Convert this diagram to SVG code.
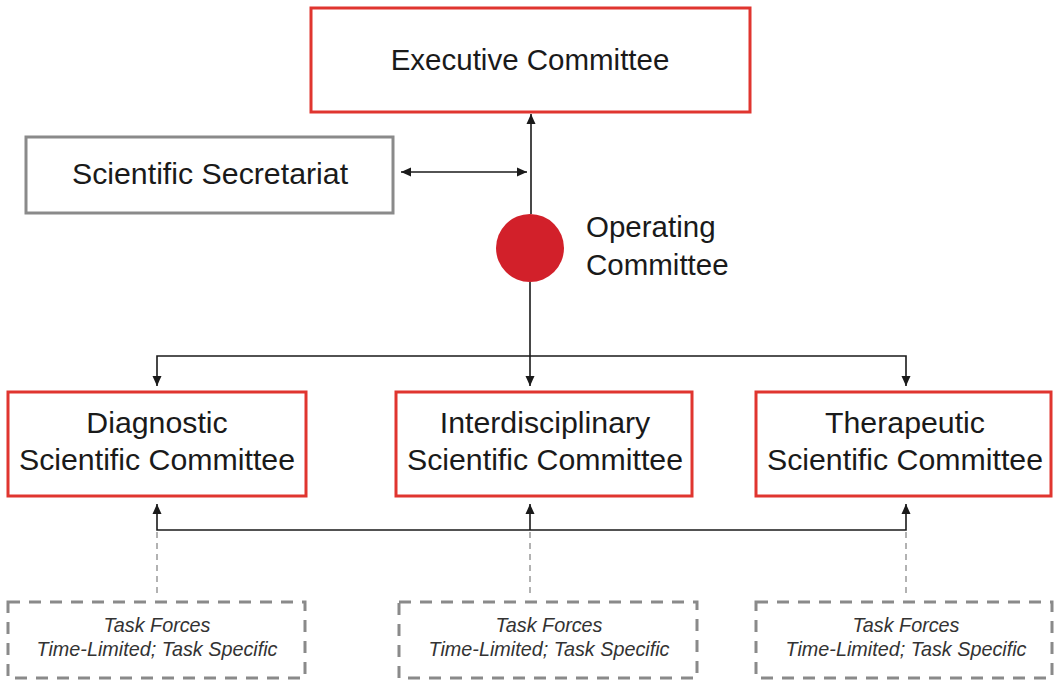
<svg xmlns="http://www.w3.org/2000/svg" width="1054" height="682" viewBox="0 0 1054 682">
<style>
.red{fill:#fff;stroke:#e0352f;stroke-width:3}
.gray{fill:#fff;stroke:#8a8a8a;stroke-width:3}
.dash{fill:none;stroke:#8a8a8a;stroke-width:3;stroke-dasharray:12 9}
.t{font-family:"Liberation Sans",Arial,sans-serif;font-size:30.3px;fill:#1a1a1a;text-anchor:middle}
.e{font-size:29.5px}
.s{font-family:"Liberation Sans",Arial,sans-serif;font-size:19.8px;font-style:italic;fill:#333;text-anchor:middle}
.ln{fill:none;stroke:#1a1a1a;stroke-width:1.6}
.gd{fill:none;stroke:#999;stroke-width:1.5;stroke-dasharray:6 5}
</style>
<defs>
<marker id="ah" viewBox="0 0 10 10" refX="10" refY="5" markerWidth="11" markerHeight="10" markerUnits="userSpaceOnUse" orient="auto-start-reverse">
<path d="M0,0.5 L10,5 L0,9.5 Z" fill="#1a1a1a"/>
</marker>
</defs>
<rect width="1054" height="682" fill="#fff"/>
<g id="connectors">
<line class="ln" x1="531" y1="214" x2="531" y2="114" marker-end="url(#ah)"/>
<line class="ln" x1="401" y1="172" x2="527" y2="172" marker-start="url(#ah)" marker-end="url(#ah)"/>
<line class="ln" x1="530" y1="282" x2="530" y2="386" marker-end="url(#ah)"/>
<polyline class="ln" points="157,386 157,356 906,356 906,386" marker-start="url(#ah)" marker-end="url(#ah)"/>
<polyline class="ln" points="157,504 157,530 906,530 906,504" marker-start="url(#ah)" marker-end="url(#ah)"/>
<line class="ln" x1="530" y1="530" x2="530" y2="504" marker-end="url(#ah)"/>
<line class="gd" x1="157" y1="532" x2="157" y2="598"/>
<line class="gd" x1="530" y1="532" x2="530" y2="598"/>
<line class="gd" x1="906" y1="532" x2="906" y2="598"/>
</g>
<g id="executive">
<rect class="red" x="311" y="8" width="439" height="104"/>
<text class="t e" x="530" y="70">Executive Committee</text>
</g>
<g id="secretariat">
<rect class="gray" x="26" y="137" width="367" height="76"/>
<text class="t" x="210" y="184">Scientific Secretariat</text>
</g>
<g id="operating">
<circle cx="530" cy="248" r="34" fill="#d2202a"/>
<text class="t e" x="586" y="237" style="text-anchor:start">Operating</text>
<text class="t e" x="586" y="275" style="text-anchor:start">Committee</text>
</g>
<g id="diagnostic">
<rect class="red" x="8" y="392" width="298" height="104"/>
<text class="t" x="157" y="433">Diagnostic</text>
<text class="t" x="157" y="470">Scientific Committee</text>
</g>
<g id="interdisciplinary">
<rect class="red" x="396" y="392" width="296" height="104"/>
<text class="t" x="545" y="433">Interdisciplinary</text>
<text class="t" x="545" y="470">Scientific Committee</text>
</g>
<g id="therapeutic">
<rect class="red" x="756" y="392" width="295" height="104"/>
<text class="t" x="905" y="433">Therapeutic</text>
<text class="t" x="905" y="470">Scientific Committee</text>
</g>
<g id="taskforce1">
<rect class="dash" x="8" y="602" width="297" height="76"/>
<text class="s" x="157" y="632">Task Forces</text>
<text class="s" x="157" y="656">Time-Limited; Task Specific</text>
</g>
<g id="taskforce2">
<rect class="dash" x="399" y="602" width="298" height="76"/>
<text class="s" x="549" y="632">Task Forces</text>
<text class="s" x="549" y="656">Time-Limited; Task Specific</text>
</g>
<g id="taskforce3">
<rect class="dash" x="756" y="602" width="296" height="76"/>
<text class="s" x="906" y="632">Task Forces</text>
<text class="s" x="906" y="656">Time-Limited; Task Specific</text>
</g>
</svg>
